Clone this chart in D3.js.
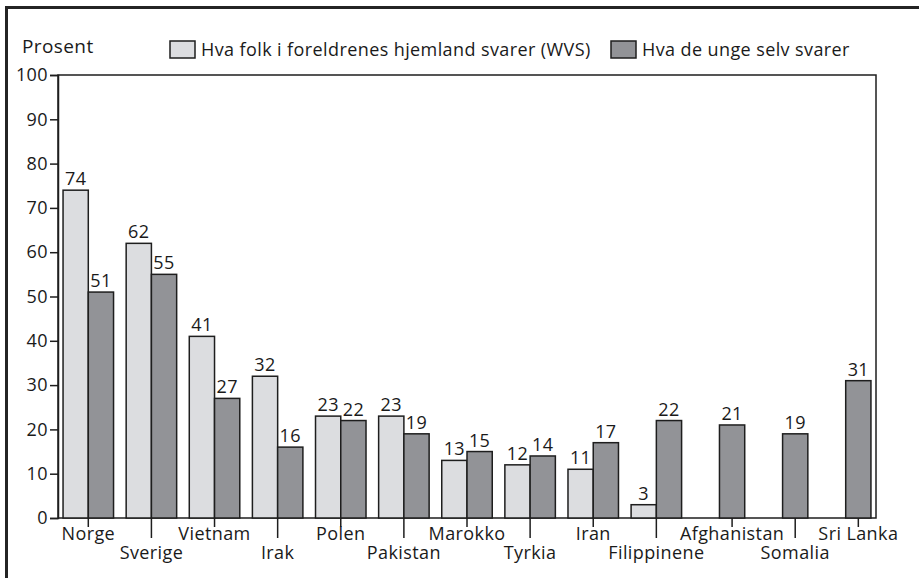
<!DOCTYPE html>
<html>
<head>
<meta charset="utf-8">
<script src="https://cdn.jsdelivr.net/npm/d3@7"></script>
<style>
  html, body { margin: 0; padding: 0; background: #fff; }
  svg { display: block; font-family: "Open Sans", "Noto Sans", sans-serif; }
  svg text { letter-spacing: 0.4px; }
</style>
</head>
<body>
<svg id="chart" width="919" height="578"></svg>
<script>
const categories = ["Norge", "Sverige", "Vietnam", "Irak", "Polen", "Pakistan", "Marokko", "Tyrkia", "Iran", "Filippinene", "Afghanistan", "Somalia", "Sri Lanka"];
const parentsValues = [74, 62, 41, 32, 23, 23, 13, 12, 11, 3, null, null, null];
const youthValues = [51, 55, 27, 16, 22, 19, 15, 14, 17, 22, 21, 19, 31];
const seriesNames = ["Hva folk i foreldrenes hjemland svarer (WVS)", "Hva de unge selv svarer"];
const yTicks = [0, 10, 20, 30, 40, 50, 60, 70, 80, 90, 100];
const yLabel = "Prosent";

const colors = ["#dcdde0", "#929397"];
const strokeColor = "#1e1e1e";
const fontSize = 18;

const svg = d3.select("#chart");
const plot = { left: 58, right: 876, top: 75, bottom: 518 };

// outer frame (extends past the visible window)
svg.append("rect")
  .attr("x", 6.5).attr("y", 7.5).attr("width", 940).attr("height", 600)
  .attr("fill", "none").attr("stroke", "#242424").attr("stroke-width", 3);

const x = d3.scaleBand()
  .domain(categories)
  .range([plot.left, plot.right])
  .paddingInner(0.2)
  .paddingOuter(0.08);
const xs = d3.scaleBand().domain([0, 1]).range([0, x.bandwidth()]);
const y = d3.scaleLinear().domain([0, 100]).range([plot.bottom, plot.top]);

// plot frame
svg.append("rect")
  .attr("x", plot.left).attr("y", plot.top)
  .attr("width", plot.right - plot.left).attr("height", plot.bottom - plot.top)
  .attr("fill", "none").attr("stroke", strokeColor).attr("stroke-width", 1.5);

// y axis
const yAxis = d3.axisLeft(y).tickValues(yTicks).tickSize(8).tickPadding(2);
const gy = svg.append("g").attr("transform", `translate(${plot.left},0)`).call(yAxis);
gy.select(".domain").attr("stroke", strokeColor).attr("stroke-width", 1.5);
gy.selectAll(".tick line").attr("stroke", strokeColor).attr("stroke-width", 1.5);
gy.selectAll(".tick text").attr("font-size", fontSize).attr("fill", "#1a1a1a")
  .attr("font-family", "Open Sans, sans-serif");

// bars
const groups = svg.append("g").selectAll("g")
  .data(categories.map((c, i) => ({ c, vals: [parentsValues[i], youthValues[i]] })))
  .join("g")
  .attr("transform", d => `translate(${x(d.c)},0)`);

groups.each(function(d) {
  const g = d3.select(this);
  d.vals.forEach((v, k) => {
    if (v === null) return;
    g.append("rect")
      .attr("x", xs(k)).attr("width", xs.bandwidth())
      .attr("y", y(v)).attr("height", y(0) - y(v))
      .attr("fill", colors[k]).attr("stroke", strokeColor).attr("stroke-width", 1.5);
    g.append("text")
      .attr("x", xs(k) + xs.bandwidth() / 2)
      .attr("y", y(v) - 5)
      .attr("text-anchor", "middle")
      .attr("font-size", fontSize).attr("fill", "#1a1a1a")
      .text(v);
  });
});

// x ticks and staggered labels
const tickX = (d, i) => parentsValues[i] === null
  ? x(d) + xs(1) + xs.bandwidth() / 2
  : x(d) + xs(1);
const xt = svg.append("g").selectAll("g").data(categories).join("g")
  .attr("transform", (d, i) => `translate(${tickX(d, i)},${plot.bottom})`);
xt.append("line")
  .attr("y1", 0).attr("y2", (d, i) => i % 2 === 0 ? 9 : 20)
  .attr("stroke", strokeColor).attr("stroke-width", 1.5);
xt.append("text")
  .attr("y", (d, i) => i % 2 === 0 ? 22 : 41)
  .attr("text-anchor", "middle")
  .attr("font-size", fontSize).attr("fill", "#1a1a1a")
  .text(d => d);

// y label
svg.append("text").attr("x", 22).attr("y", 53)
  .attr("font-size", fontSize + 1).attr("fill", "#1a1a1a").text(yLabel);

// legend
const legendX = [170, 611];
const lg = svg.append("g").selectAll("g").data(seriesNames).join("g")
  .attr("transform", (d, i) => `translate(${legendX[i]},41)`);
lg.append("rect").attr("width", 25).attr("height", 17)
  .attr("fill", (d, i) => colors[i]).attr("stroke", strokeColor).attr("stroke-width", 1.5);
lg.append("text").attr("x", 31).attr("y", 15)
  .attr("font-size", fontSize).attr("fill", "#1a1a1a").text(d => d);
</script>
</body>
</html>
